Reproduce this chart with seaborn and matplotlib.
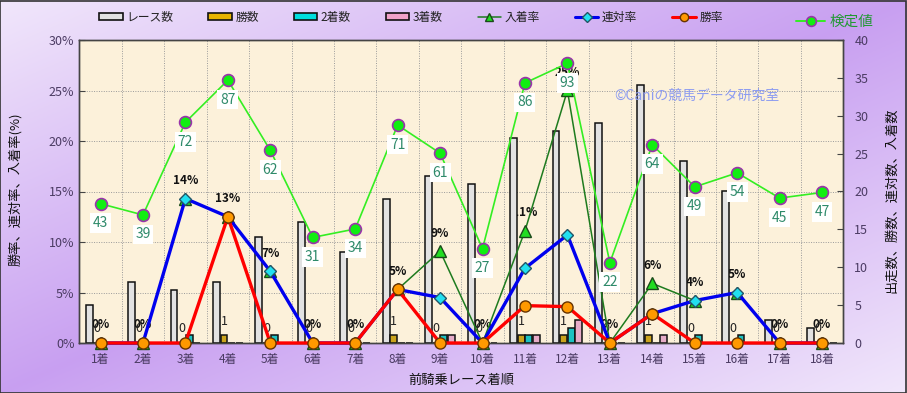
import numpy as np
import pandas as pd
import matplotlib
matplotlib.use("Agg")
import matplotlib.pyplot as plt
import seaborn as sns
from matplotlib.lines import Line2D
from matplotlib.patches import Patch, Rectangle

# ---------------- data ----------------
categories = ["1着", "2着", "3着", "4着", "5着", "6着", "7着", "8着", "9着",
              "10着", "11着", "12着", "13着", "14着", "15着", "16着", "17着", "18着"]
races   = [5, 8, 7, 8, 14, 16, 12, 19, 22, 21, 27, 28, 29, 34, 24, 20, 3, 2]
wins    = [0, 0, 0, 1, 0, 0, 0, 1, 0, 0, 1, 1, 0, 1, 0, 0, 0, 0]
seconds = [0, 0, 1, 0, 1, 0, 0, 0, 1, 0, 1, 2, 0, 0, 1, 1, 0, 0]
thirds  = [0, 0, 0, 0, 0, 0, 0, 0, 1, 0, 1, 3, 0, 1, 0, 0, 0, 0]
place_rate    = [0, 0, 14.3, 12.5, 7.1, 0, 0, 5.3, 9.1, 0, 11.1, 25.0, 0, 5.9, 4.2, 5.0, 0, 0]
quinella_rate = [0, 0, 14.3, 12.5, 7.1, 0, 0, 5.3, 4.5, 0, 7.4, 10.7, 0, 2.9, 4.2, 5.0, 0, 0]
win_rate      = [0, 0, 0, 12.5, 0, 0, 0, 5.3, 0, 0, 3.7, 3.6, 0, 2.9, 0, 0, 0, 0]
test_values   = [43, 39, 72, 87, 62, 31, 34, 71, 61, 27, 86, 93, 22, 64, 49, 54, 45, 47]

bar_series = ["レース数", "勝数", "2着数", "3着数"]
bar_colors = ["#e2e2e2", "#e8b400", "#00dede", "#f0a2c8"]
pct_ticks = [0, 5, 10, 15, 20, 25, 30]
cnt_ticks = [0, 5, 10, 15, 20, 25, 30, 35, 40]

# ---------------- style ----------------
sns.set_style("ticks")
plt.rcParams["font.family"] = ["Noto Sans CJK JP", "DejaVu Sans"]
plt.rcParams["axes.unicode_minus"] = False

W, H = 907, 393
fig = plt.figure(figsize=(W / 100, H / 100), dpi=100)

# gradient background
bg = fig.add_axes([0, 0, 1, 1], zorder=-10)
yy, xx = np.mgrid[0:1:200j, 0:1:400j]
s = (xx + yy) / 2
w = 1 - np.abs(2 * s - 1)
light = np.array([0.945, 0.905, 0.985])
purple = np.array([0.785, 0.625, 0.945])
img = light + (purple - light) * w[..., None]
bg.imshow(img, aspect="auto", extent=[0, 1, 0, 1], origin="upper")
bg.axis("off")
fig.patches.append(Rectangle((0.0005, 0.001), 0.998, 0.997, transform=fig.transFigure,
                             fill=False, edgecolor="#333333", linewidth=1.2))

L, R, B, T = 79.3 / W, 843.3 / W, 1 - 343 / H, 1 - 40 / H
n = len(categories)
idx = np.arange(n)

tick_color = "#4b3b63"
spine_color = "#444444"

# primary: percent axis (background + grid)
ax_pct = fig.add_axes([L, B, R - L, T - B])
ax_pct.set_facecolor("#fcf1da")
ax_pct.set_ylim(0, 30)
ax_pct.set_yticks(pct_ticks)
ax_pct.set_yticklabels([f"{v}%" for v in pct_ticks])
ax_pct.grid(axis="y", color="#9a9a9a", linestyle=(0, (1, 1.5)), linewidth=0.7)

# bars on count axis
ax_bar = ax_pct.twinx()
df = pd.DataFrame({
    "cat": categories * 4,
    "series": sum([[sname] * n for sname in bar_series], []),
    "value": races + wins + seconds + thirds,
})
sns.barplot(data=df, x="cat", y="value", hue="series", order=categories,
            hue_order=bar_series, palette=bar_colors, width=0.72, gap=0.1,
            edgecolor="#111111", linewidth=1.1, ax=ax_bar, legend=False)
ax_bar.set_ylim(0, 40)
ax_bar.set_yticks(cnt_ticks)
ax_bar.set_xlabel("")
ax_bar.set_ylabel("")
ax_bar.bar_label(ax_bar.containers[1], labels=[str(v) for v in wins],
                 padding=5.5, fontsize=9, color="#222222")

# place-rate labels (under bars)
for i, v in enumerate(place_rate):
    ax_bar.annotate(f"{int(np.floor(v + 0.5))}%", xy=(i, v), xycoords=ax_pct.transData,
                    xytext=(0, 13), textcoords="offset points", ha="center", va="center",
                    fontsize=8.5, fontweight="bold", color="#111111", zorder=0.5)

# percent lines
ax_line = ax_pct.twinx()
ax_line.set_ylim(0, 30)
sns.lineplot(x=idx, y=place_rate, ax=ax_line, color="#1e7b1e", linewidth=1.1,
             marker="^", markersize=8.5, markerfacecolor="#22dd22",
             markeredgecolor="#1a4a1a", markeredgewidth=1.0, clip_on=False, zorder=3)
sns.lineplot(x=idx, y=quinella_rate, ax=ax_line, color="#0000ee", linewidth=2.4,
             marker="D", markersize=6.5, markerfacecolor="#22e0f0",
             markeredgecolor="#225566", markeredgewidth=1.0, clip_on=False, zorder=4)
sns.lineplot(x=idx, y=win_rate, ax=ax_line, color="#ff0000", linewidth=2.4,
             marker="o", markersize=8, markerfacecolor="#ff9900",
             markeredgecolor="#663300", markeredgewidth=1.0, clip_on=False, zorder=5)
ax_line.set_ylim(0, 30)
ax_line.axis("off")

# test value line (own hidden scale)
ax_kt = ax_pct.twinx()
sns.lineplot(x=idx, y=test_values, ax=ax_kt, color="#33ee22", linewidth=1.2,
             marker="o", markersize=8.5, markerfacecolor="#11ee11",
             markeredgecolor="#9933aa", markeredgewidth=1.2, clip_on=False, zorder=6)
ax_kt.set_ylim(-6.6, 101.3)
for i, v in enumerate(test_values):
    ax_kt.annotate(str(v), xy=(i, v), xytext=(0, -14), textcoords="offset points",
                   ha="center", va="center", fontsize=10, color="#2e8a6a", zorder=7,
                   bbox=dict(boxstyle="square,pad=0.2", facecolor="white", edgecolor="none"))
ax_kt.axis("off")

# watermark
ax_kt.text(0.7, 0.815, "©Caniの競馬データ研究室", transform=ax_kt.transAxes,
           fontsize=10, color="#8d9cf0", ha="left", va="center", zorder=1)

# x axis
ax_pct.set_xlim(-0.5, n - 0.5)
ax_pct.set_xticks(idx)
ax_pct.set_xticklabels(categories)
ax_pct.set_xticks(np.arange(n + 1) - 0.5, minor=True)
ax_pct.grid(axis="x", which="minor", color="#9a9a9a", linestyle=(0, (1, 1.5)), linewidth=0.7)
ax_pct.tick_params(axis="x", which="both", length=0, pad=7, labelsize=8.5, labelcolor=tick_color)
ax_pct.tick_params(axis="y", direction="in", length=4, labelsize=9, labelcolor=tick_color,
                   color=spine_color)
ax_bar.tick_params(axis="y", direction="in", length=4, labelsize=9, labelcolor=tick_color,
                   color=spine_color, pad=8)
ax_pct.set_xlim(-0.5, n - 0.5)
for axx in (ax_pct, ax_bar):
    for sp in axx.spines.values():
        sp.set_visible(True)
        sp.set_color(spine_color)
        sp.set_linewidth(1.0)

# axis titles
fig.text(15 / W, 1 - 189 / H, "勝率、連対率、入着率(%)", rotation=90, ha="center",
         va="center", fontsize=9.5, color="#111111")
fig.text(892 / W, 1 - 200 / H, "出走数、勝数、連対数、入着数", rotation=90, ha="center",
         va="center", fontsize=9.5, color="#111111")
fig.text(461 / W, 1 - 380 / H, "前騎乗レース着順", ha="center", va="center",
         fontsize=9.5, color="#111111")

# legends
handles = [Patch(facecolor=c, edgecolor="#111111", linewidth=1.2) for c in bar_colors]
handles += [
    Line2D([], [], color="#1e7b1e", lw=1.1, marker="^", ms=6, mfc="#22dd22", mec="#1a4a1a"),
    Line2D([], [], color="#0000ee", lw=2.2, marker="D", ms=5, mfc="#22e0f0", mec="#225566"),
    Line2D([], [], color="#ff0000", lw=2.2, marker="o", ms=6, mfc="#ff9900", mec="#663300"),
]
labels = bar_series + ["入着率", "連対率", "勝率"]
fig.legend(handles, labels, loc="center", bbox_to_anchor=(0.453, 1 - 17 / H), ncol=7,
           frameon=False, fontsize=8.5, columnspacing=2.95, handlelength=2.0,
           handletextpad=0.3, handleheight=0.6, labelcolor="#222222")
fig.legend([Line2D([], [], color="#33ee22", lw=1.4, marker="o", ms=7, mfc="#11ee11",
                   mec="#9933aa", mew=1.2)], ["検定値"], loc="center",
           bbox_to_anchor=(835 / W, 1 - 22 / H), frameon=False, fontsize=10.5,
           labelcolor="#229933", handlelength=2.0, handletextpad=0.3)

fig.savefig("out.png", dpi=100)
